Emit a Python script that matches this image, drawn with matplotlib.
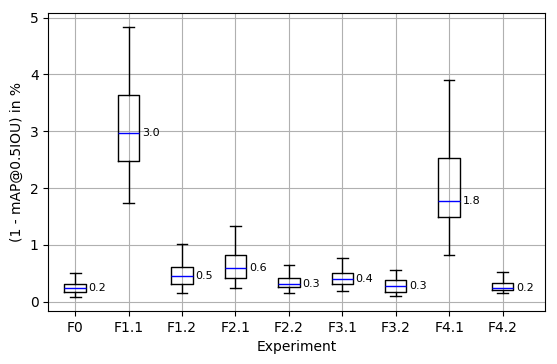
import matplotlib
matplotlib.use('Agg')
import matplotlib.pyplot as plt

experiments = ['F0', 'F1.1', 'F1.2', 'F2.1', 'F2.2', 'F3.1', 'F3.2', 'F4.1', 'F4.2']
whislo = [0.08, 1.74, 0.15, 0.24, 0.15, 0.19, 0.10, 0.82, 0.15]
q1     = [0.18, 2.48, 0.31, 0.42, 0.26, 0.305, 0.18, 1.49, 0.20]
med    = [0.246, 2.97, 0.45, 0.59, 0.305, 0.40, 0.276, 1.77, 0.24]
q3     = [0.317, 3.63, 0.61, 0.82, 0.417, 0.505, 0.38, 2.53, 0.33]
whishi = [0.505, 4.84, 1.015, 1.33, 0.646, 0.77, 0.56, 3.90, 0.52]

stats = []
for i in range(len(experiments)):
    stats.append({'label': experiments[i], 'whislo': whislo[i], 'q1': q1[i],
                  'med': med[i], 'q3': q3[i], 'whishi': whishi[i], 'fliers': []})

fig, ax = plt.subplots(figsize=(5.57, 3.64), dpi=100)
pos = list(range(len(experiments)))
ax.bxp(stats, positions=pos, widths=0.4, showfliers=False,
       medianprops=dict(color='blue'))
for i in range(len(experiments)):
    ax.text(pos[i] + 0.25, med[i], '%.1f' % med[i], fontsize=8, ha='left', va='center')

ax.set_xlim(-0.5, 8.8)
ax.set_ylim(-0.16, 5.08)
ax.grid(True)
ax.set_axisbelow(True)
ax.set_xlabel('Experiment')
ax.set_ylabel('(1 - mAP@0.5IOU) in %')
fig.subplots_adjust(left=0.087, right=0.979, top=0.964, bottom=0.146)
fig.savefig('out.png')
